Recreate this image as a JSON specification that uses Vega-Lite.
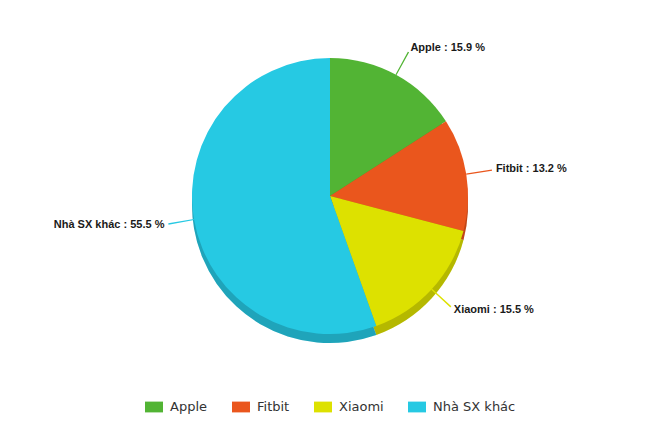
{
  "$schema": "https://vega.github.io/schema/vega-lite/v6.json",
  "description": "3D-style pie of smartwatch maker shares with outside labels",
  "width": 660,
  "height": 440,
  "autosize": {"type": "fit", "contains": "padding"},
  "padding": {"left": 0, "right": 0, "top": 13, "bottom": 26},
  "background": "white",
  "data": {
    "values": [
      {"brand": "Apple", "share": 15.9, "idx": 1},
      {"brand": "Fitbit", "share": 13.2, "idx": 2},
      {"brand": "Xiaomi", "share": 15.5, "idx": 3},
      {"brand": "Nhà SX khác", "share": 55.5, "idx": 4}
    ]
  },
  "transform": [
    {"stack": "share", "groupby": [], "sort": [{"field": "idx", "order": "ascending"}], "as": ["s0", "s1"]},
    {"calculate": "(datum.s0 + datum.s1) / 2", "as": "mid"},
    {"calculate": "datum.mid - 0.07", "as": "mid0"},
    {"calculate": "datum.mid + 0.07", "as": "mid1"},
    {"calculate": "datum.brand + ' : ' + format(datum.share, '.1f') + ' %'", "as": "label"}
  ],
  "layer": [
    {
      "mark": {"type": "arc", "radius": 138, "yOffset": 9},
      "encoding": {
        "theta": {"field": "s0", "type": "quantitative", "stack": null, "scale": {"domain": [0, 100.1]}},
        "theta2": {"field": "s1"},
        "color": {"field": "brand", "type": "nominal"}
      }
    },
    {
      "mark": {"type": "arc", "radius": 138, "yOffset": 9, "color": "#000", "opacity": 0.18},
      "encoding": {
        "theta": {"field": "s0", "type": "quantitative", "stack": null, "scale": {"domain": [0, 100.1]}},
        "theta2": {"field": "s1"}
      }
    },
    {
      "mark": {"type": "arc", "radius": 138},
      "encoding": {
        "theta": {"field": "s0", "type": "quantitative", "stack": null, "scale": {"domain": [0, 100.1]}},
        "theta2": {"field": "s1"},
        "color": {
          "field": "brand",
          "type": "nominal",
          "scale": {
            "domain": ["Apple", "Fitbit", "Xiaomi", "Nhà SX khác"],
            "range": ["#52b434", "#ea561d", "#dde100", "#26c9e3"]
          }
        }
      }
    },
    {
      "mark": {"type": "arc", "radius": 164, "radius2": 138},
      "encoding": {
        "theta": {"field": "mid0", "type": "quantitative", "stack": null, "scale": {"domain": [0, 100.1]}},
        "theta2": {"field": "mid1"},
        "color": {"field": "brand", "type": "nominal"}
      }
    },
    {
      "transform": [{"filter": "datum.brand !== 'Nhà SX khác'"}],
      "mark": {
        "type": "text",
        "radius": 168,
        "align": "left",
        "baseline": "middle",
        "font": "Liberation Sans",
        "fontWeight": "bold",
        "fontSize": 11,
        "color": "#1a1a1a"
      },
      "encoding": {
        "theta": {"field": "mid", "type": "quantitative", "stack": null, "scale": {"domain": [0, 100.1]}},
        "text": {"field": "label"}
      }
    },
    {
      "transform": [{"filter": "datum.brand === 'Nhà SX khác'"}],
      "mark": {
        "type": "text",
        "radius": 168,
        "align": "right",
        "baseline": "middle",
        "font": "Liberation Sans",
        "fontWeight": "bold",
        "fontSize": 11,
        "color": "#1a1a1a"
      },
      "encoding": {
        "theta": {"field": "mid", "type": "quantitative", "stack": null, "scale": {"domain": [0, 100.1]}},
        "text": {"field": "label"}
      }
    }
  ],
  "config": {
    "view": {"stroke": null},
    "legend": {
      "orient": "bottom",
      "direction": "horizontal",
      "layout": {"bottom": {"anchor": "middle"}},
      "title": null,
      "offset": 19,
      "labelFont": "DejaVu Sans",
      "labelFontSize": 13,
      "labelColor": "#333",
      "labelOffset": 7,
      "symbolType": "M-1,-0.6H1V0.6H-1Z",
      "symbolSize": 324,
      "symbolStrokeWidth": 0,
      "symbolOpacity": 1,
      "columnPadding": 24
    }
  }
}
